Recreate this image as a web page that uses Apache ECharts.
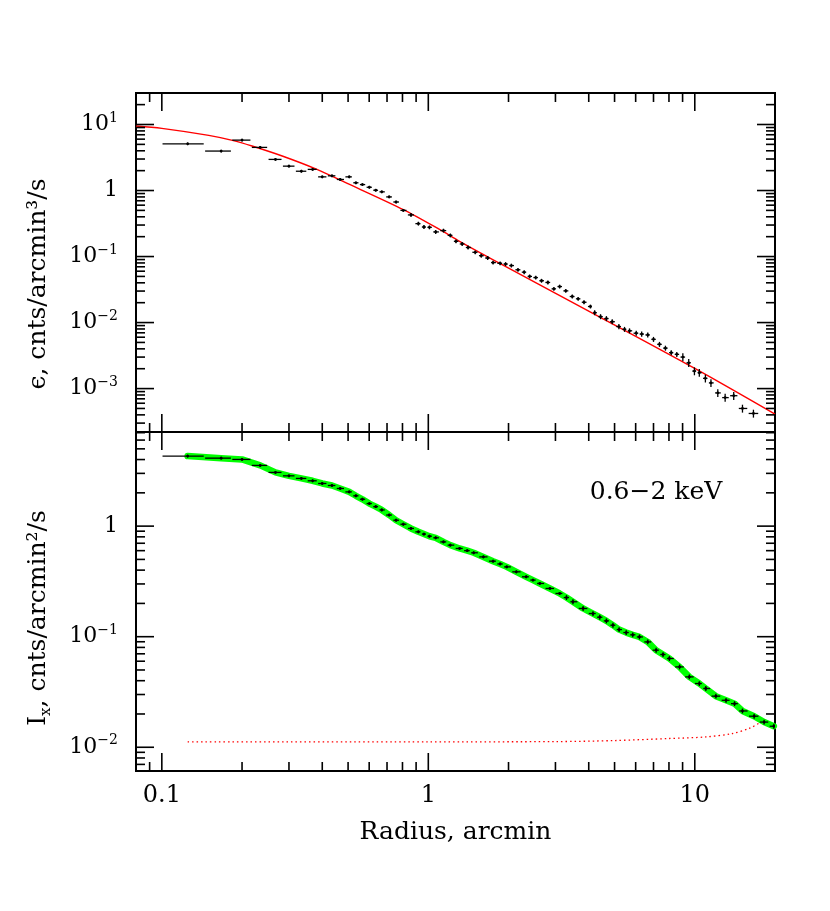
<!DOCTYPE html>
<html>
<head>
<meta charset="utf-8">
<title>emissivity / surface brightness profile</title>
<script src="https://cdn.jsdelivr.net/npm/echarts@6/dist/echarts.min.js"></script>
<style>html,body{margin:0;background:#fff}</style>
</head>
<body>
<div id="main" style="width:830px;height:911px;"></div>
<script>
// top panel: deprojected emissivity (bin centres, arcmin)
const epsR = [0.125,0.167,0.200,0.234,0.267,0.300,0.334,0.368,0.400,0.435,
  0.467,0.505,0.535,0.566,0.601,0.635,0.669,0.713,0.757,0.806,
  0.861,0.918,0.963,1.01,1.066,1.14,1.21,1.27,1.34,1.41,
  1.50,1.58,1.67,1.75,1.86,1.95,2.05,2.17,2.29,2.40,
  2.53,2.66,2.81,2.96,3.11,3.28,3.47,3.65,3.84,4.06,
  4.21,4.43,4.66,4.90,5.19,5.45,5.69,6.03,6.32,6.66,
  7.00,7.37,7.76,8.16,8.56,9.02,9.49,9.97,10.4,10.96,
  11.5,12.2,13.0,14.0,15.1,16.6];
const epsVal = [5.1,3.96,5.8,4.5,2.96,2.34,1.96,2.09,1.61,1.67,
  1.47,1.61,1.31,1.23,1.12,1.01,0.955,0.80,0.67,0.50,
  0.427,0.315,0.28,0.277,0.236,0.247,0.209,0.17,0.155,0.137,
  0.116,0.103,0.095,0.081,0.079,0.077,0.073,0.063,0.058,0.050,
  0.048,0.043,0.0405,0.0324,0.0351,0.0302,0.0248,0.0229,0.0203,0.0175,
  0.0141,0.0123,0.0115,0.0103,0.0087,0.0079,0.0075,0.0069,0.0067,0.0065,
  0.00557,0.00468,0.0041,0.0035,0.0033,0.0030,0.00246,0.00184,0.00174,0.00143,
  0.00122,0.00086,0.00073,0.00078,0.00050,0.00042];
// fractional errors
const epsErr = [0.03,0.03,0.03,0.03,0.03,0.03,0.03,0.03,0.03,0.03,
  0.03,0.03,0.03,0.03,0.03,0.03,0.03,0.03,0.03,0.03,
  0.05,0.05,0.05,0.05,0.05,0.05,0.05,0.05,0.05,0.05,
  0.05,0.05,0.05,0.05,0.05,0.05,0.05,0.05,0.05,0.05,
  0.05,0.05,0.05,0.05,0.05,0.05,0.05,0.05,0.05,0.05,
  0.07,0.07,0.07,0.07,0.07,0.07,0.07,0.07,0.07,0.07,
  0.07,0.07,0.07,0.07,0.07,0.12,0.12,0.12,0.12,0.12,
  0.12,0.12,0.12,0.12,0.12,0.12];

// red model curve, top panel
const modelR = [0.08,0.1,0.15,0.184,0.218,0.283,0.382,0.481,0.806,1.106,1.31,1.97,4.03,10,20];
const modelEps = [9.5,8.75,6.85,5.75,4.72,3.33,2.09,1.36,0.514,0.255,0.17,0.069,0.0147,0.00202,0.00041];

// bottom panel: surface brightness, 0.6-2 keV
const ixR = [0.125,0.167,0.200,0.234,0.267,0.300,0.334,0.368,0.400,0.435,
  0.467,0.505,0.535,0.566,0.601,0.635,0.669,0.713,0.757,0.806,
  0.861,0.918,0.963,1.01,1.066,1.14,1.21,1.31,1.40,1.48,
  1.61,1.75,1.86,1.97,2.14,2.33,2.47,2.62,2.86,3.11,
  3.30,3.49,3.81,4.15,4.40,4.66,4.93,5.20,5.53,5.85,
  6.20,6.66,7.16,7.60,8.03,8.77,9.54,10.4,11.0,12.0,
  13.1,14.1,15.1,16.7,18.2,19.8];
const ixVal = [4.30,4.12,4.01,3.54,3.06,2.85,2.70,2.57,2.43,2.33,
  2.19,2.04,1.88,1.75,1.60,1.50,1.40,1.26,1.13,1.04,
  0.953,0.888,0.847,0.81,0.784,0.72,0.673,0.628,0.60,0.574,
  0.527,0.482,0.455,0.428,0.386,0.348,0.325,0.303,0.273,0.246,
  0.226,0.207,0.180,0.162,0.150,0.139,0.127,0.116,0.109,0.104,
  0.0995,0.0897,0.0755,0.069,0.0635,0.0533,0.0433,0.0377,0.034,0.029,
  0.0266,0.0248,0.0213,0.0191,0.0169,0.0155];
const ixErr = [0.02,0.02,0.02,0.02,0.02,0.02,0.02,0.02,0.02,0.02,
  0.02,0.02,0.02,0.02,0.02,0.02,0.02,0.02,0.02,0.02,
  0.02,0.02,0.02,0.02,0.02,0.02,0.02,0.02,0.02,0.02,
  0.02,0.02,0.02,0.02,0.02,0.02,0.02,0.02,0.02,0.02,
  0.04,0.04,0.04,0.04,0.04,0.04,0.04,0.04,0.04,0.04,
  0.04,0.04,0.04,0.04,0.04,0.04,0.04,0.04,0.04,0.04,
  0.04,0.04,0.04,0.04,0.04,0.04];

// background level (red dotted)
const bgR = [0.125,1,3,5,8,11,13.8,16,17.5,18.5];
const bgI = [0.0112,0.0112,0.01125,0.0115,0.012,0.0124,0.0133,0.0148,0.0166,0.0178];

const xLabels = { '0.1': '0.1', '1': '1', '10': '10' };
const bandText = '0.6\u22122 keV';

const FONT = 'DejaVu Serif';
const xMin = 0.08, xMax = 20;
const yRange = [[2.2e-4, 30], [6.1e-3, 7.1]];

const chart = echarts.init(document.getElementById('main'));

function isPow10(v) {
  const l = Math.log10(v);
  return Math.abs(l - Math.round(l)) < 1e-6;
}

function tickVals(lo, hi) {
  const out = [];
  for (let k = -5; k <= 2; k++) {
    for (let m = 1; m <= 9; m++) {
      const v = parseFloat((m * Math.pow(10, k)).toPrecision(3));
      if (v > lo * 1.0001 && v < hi * 0.9999) out.push(v);
    }
  }
  return out;
}

function tickSeries(gi, dir) {
  const vals = dir === 'x' ? tickVals(xMin, xMax) : tickVals(yRange[gi][0], yRange[gi][1]);
  return {
    type: 'custom', xAxisIndex: gi, yAxisIndex: gi, silent: true, z: 10,
    data: vals.map(v => dir === 'x' ? [v, 1] : [1, v]),
    renderItem(params, api) {
      const cs = params.coordSys;
      const v = api.value(dir === 'x' ? 0 : 1);
      const len = isPow10(v) ? 18 : 9;
      const st = { stroke: '#000', lineWidth: 1.6 };
      if (dir === 'x') {
        const px = api.coord([v, 1])[0];
        return { type: 'group', children: [
          { type: 'line', shape: { x1: px, y1: cs.y, x2: px, y2: cs.y + len }, style: st },
          { type: 'line', shape: { x1: px, y1: cs.y + cs.height, x2: px, y2: cs.y + cs.height - len }, style: st }
        ]};
      }
      const py = api.coord([1, v])[1];
      return { type: 'group', children: [
        { type: 'line', shape: { x1: cs.x, y1: py, x2: cs.x + len, y2: py }, style: st },
        { type: 'line', shape: { x1: cs.x + cs.width, y1: py, x2: cs.x + cs.width - len, y2: py }, style: st }
      ]};
    }
  };
}

// data points with bin widths (bins meet halfway between centres)
function errSeries(gi, r, v, err) {
  const data = r.map((x, i) => {
    const lo = i === 0 ? 0.1 : Math.sqrt(r[i - 1] * x);
    const hi = i === r.length - 1 ? x * x / Math.sqrt(r[i - 1] * x) : Math.sqrt(x * r[i + 1]);
    return [x, v[i], lo, hi, v[i] * (1 - err[i]), v[i] * (1 + err[i])];
  });
  return {
    type: 'custom', xAxisIndex: gi, yAxisIndex: gi, z: 6, clip: true,
    data: data, encode: { x: 0, y: 1 },
    renderItem(params, api) {
      const c = api.coord([api.value(0), api.value(1)]);
      const l = api.coord([api.value(2), api.value(1)]);
      const h = api.coord([api.value(3), api.value(1)]);
      const a = api.coord([api.value(0), api.value(4)]);
      const b = api.coord([api.value(0), api.value(5)]);
      const st = { stroke: '#000', lineWidth: 1.3 };
      return { type: 'group', children: [
        { type: 'line', shape: { x1: l[0] + 0.7, y1: c[1], x2: h[0] - 0.7, y2: c[1] }, style: st },
        { type: 'line', shape: { x1: c[0], y1: a[1] + 0.5, x2: c[0], y2: b[1] - 0.5 }, style: st },
        { type: 'circle', shape: { cx: c[0], cy: c[1], r: 1.4 }, style: { fill: '#000' } }
      ]};
    }
  };
}

function zip(a, b) { return a.map((x, i) => [x, b[i]]); }

function yFmt(v) {
  if (!isPow10(v)) return '';
  const e = Math.round(Math.log10(v));
  if (e === 0) return '{b|1}';
  return '{b|10}{s|' + (e < 0 ? '\u2212' + (-e) : e) + '}';
}

const labelRich = {
  b: { fontFamily: FONT, fontSize: 22, color: '#000', lineHeight: 27 },
  s: { fontFamily: FONT, fontSize: 14, color: '#000', verticalAlign: 'top', lineHeight: 27 }
};

const baseX = {
  type: 'log', logBase: 10, min: xMin, max: xMax,
  axisLine: { show: false }, axisTick: { show: false }, splitLine: { show: false },
  minorTick: { show: false }
};

const baseY = i => ({
  type: 'log', logBase: 10, gridIndex: i, min: yRange[i][0], max: yRange[i][1],
  axisLine: { show: false }, axisTick: { show: false }, splitLine: { show: false },
  axisLabel: { formatter: yFmt, rich: labelRich, margin: 18, showMinLabel: false, showMaxLabel: false }
});

chart.setOption({
  animation: false,
  backgroundColor: '#fff',
  grid: [
    { left: 136, right: 55, top: 93, height: 339, show: true, borderColor: '#000', borderWidth: 2, backgroundColor: 'transparent' },
    { left: 136, right: 55, top: 432, height: 339, show: true, borderColor: '#000', borderWidth: 2, backgroundColor: 'transparent' }
  ],
  xAxis: [
    Object.assign({}, baseX, { gridIndex: 0, axisLabel: { show: false } }),
    Object.assign({}, baseX, {
      gridIndex: 1,
      axisLabel: {
        fontFamily: FONT, fontSize: 24, color: '#000', margin: 13,
        showMinLabel: false, showMaxLabel: false,
        formatter: v => xLabels[String(parseFloat(v.toPrecision(3)))] || ''
      },
      name: 'Radius, arcmin', nameLocation: 'middle', nameGap: 49,
      nameTextStyle: { fontFamily: FONT, fontSize: 25, color: '#000' }
    })
  ],
  yAxis: [baseY(0), baseY(1)],
  graphic: [
    {
      type: 'text', x: 38, y: 284, rotation: Math.PI / 2,
      style: {
        text: '\u03f5, cnts/arcmin\u00b3/s',
        fontFamily: FONT, fontSize: 25, fill: '#000', align: 'center', verticalAlign: 'middle'
      }
    },
    {
      type: 'text', x: 38, y: 618, rotation: Math.PI / 2,
      style: {
        text: '{a|I}{x|x}{a|, cnts/arcmin\u00b2/s}',
        rich: {
          a: { fontFamily: FONT, fontSize: 25, fill: '#000', lineHeight: 32, verticalAlign: 'middle' },
          x: { fontFamily: FONT, fontSize: 15, fill: '#000', lineHeight: 32, verticalAlign: 'bottom' }
        },
        align: 'center', verticalAlign: 'middle'
      }
    },
    {
      type: 'text', x: 656, y: 492,
      style: { text: bandText, fontFamily: FONT, fontSize: 25, fill: '#000', align: 'center', verticalAlign: 'middle' }
    }
  ],
  series: [
    tickSeries(0, 'x'), tickSeries(0, 'y'), tickSeries(1, 'x'), tickSeries(1, 'y'),
    {
      type: 'line', xAxisIndex: 0, yAxisIndex: 0, data: zip(modelR, modelEps),
      smooth: 0.3, showSymbol: false, z: 4,
      lineStyle: { color: '#ff0000', width: 1.4 }
    },
    errSeries(0, epsR, epsVal, epsErr),
    {
      type: 'line', xAxisIndex: 1, yAxisIndex: 1, data: zip(bgR, bgI),
      smooth: 0.3, showSymbol: false, z: 3,
      lineStyle: { color: '#ff0000', width: 1.3, type: [1.5, 3] }
    },
    {
      type: 'line', xAxisIndex: 1, yAxisIndex: 1, data: zip(ixR, ixVal),
      showSymbol: false, z: 4,
      lineStyle: { color: '#00ff00', width: 6.5, cap: 'round', join: 'round' }
    },
    errSeries(1, ixR, ixVal, ixErr)
  ]
});
</script>
</body>
</html>
